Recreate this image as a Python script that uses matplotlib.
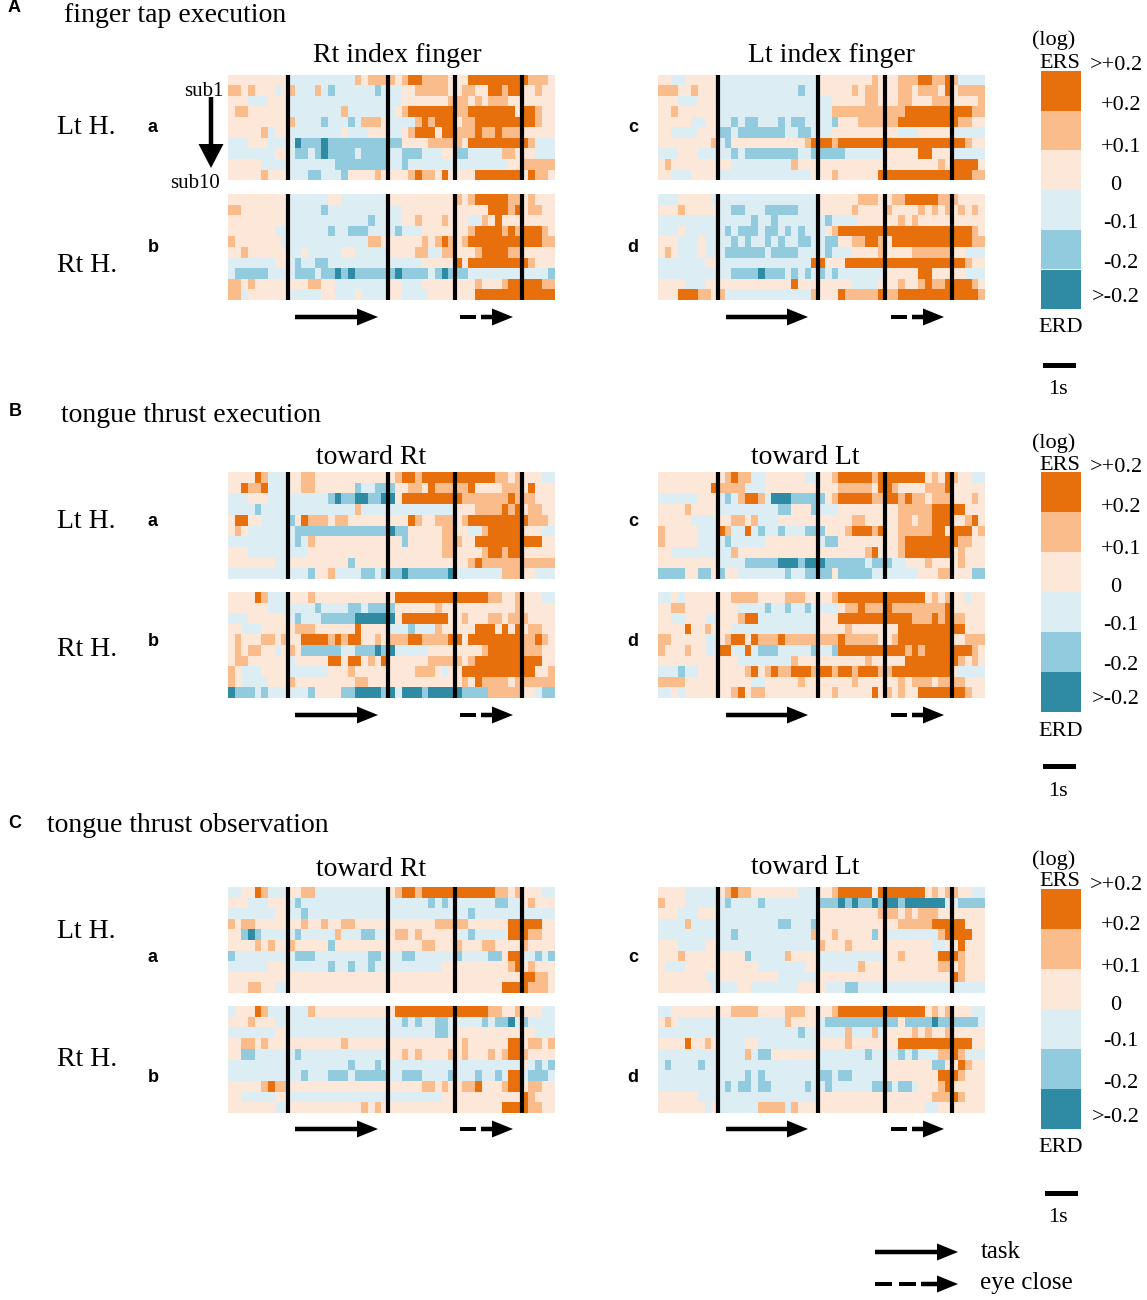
import numpy as np
import matplotlib
matplotlib.use("Agg")
import matplotlib.pyplot as plt
from matplotlib.colors import ListedColormap
from matplotlib.patches import FancyArrow, Rectangle

# levels: 0 dark blue, 1 mid blue, 2 light blue, 3 peach, 4 mid orange, 5 dark orange
# columns are grouped by the event lines: 9 | 15 | 10 | 10 | 5
A_a = [
    "333333333 222222222243444 4345544443 3355555555 54443",
    "443433323 422242122222212 2233444443 3443355455 33433",
    "333222333 222222222222222 2233333334 4434344433 33333",
    "344333333 222222224222222 2345555555 4455555553 55433",
    "333333333 422221222124443 2222454555 3445555555 55433",
    "333334233 222222223222333 2234555355 4445445444 33333",
    "222333222 201110111111111 1133334444 4355555555 54222",
    "222222233 211210111121111 2211122233 1122222443 33222",
    "333332222 222222211111111 2212222222 2222222233 44444",
    "333334333 222112221333343 3334544353 3335555555 35443",
]
A_b = [
    "333333333 222222332222222 3333333333 4345555544 34333",
    "443333333 222221222222222 2233333333 3333355545 34433",
    "333333333 222222222222122 2233433343 3322435333 33333",
    "333333322 222222122111222 2122233333 3345555454 55543",
    "433333332 222222222222443 3333343454 3455555555 55544",
    "334333333 223222223322222 3333442244 3334555544 33333",
    "222222233 212211222222222 2222233333 5355555555 54333",
    "211111222 211121101011111 1011112101 1122222222 22221",
    "443433333 333443322222222 3322233333 3334333455 55544",
    "442333333 222223322232222 3322223333 3335555555 55555",
]
A_c = [
    "332233333 222222222222222 3333333343 3344455445 42222",
    "444334333 222222222222122 3333343443 3344344435 34444",
    "333222333 222222222222222 2233333443 3344333444 33334",
    "334333333 222222222222222 2244444444 4445555555 55544",
    "333332233 221211222121122 2213334444 4455555555 54433",
    "332222333 112111111122112 2233333333 3322233333 22222",
    "333333334 213333333333345 5545555555 5555555555 55433",
    "222333222 221211111111221 1111222222 3333355333 22222",
    "343333333 332222222224333 3333333333 3333333343 55553",
    "332223333 222222222222223 3343333335 5555555555 55544",
]
A_d = [
    "222333332 222222222222222 3333334443 3445555544 43333",
    "333433333 221122211111222 3333343333 4333343434 34343",
    "222222222 222221221222222 2122223333 3343433333 33333",
    "222322222 212111211212122 2345555555 5555555555 55543",
    "333222322 221212212122112 2113344554 3555555555 55544",
    "343222322 211111121111222 2122233334 3333444444 33222",
    "222222233 222222222222225 5333555555 5555555555 55433",
    "222222222 221111011121212 1212222222 3333355333 33222",
    "333322233 333333333335333 3333322223 3343345445 55543",
    "333555443 422222222222224 3335444445 4455555555 55554",
]
B_a = [
    "333354222 334433333333333 3455455555 5555554434 33322",
    "335445222 334433333312211 1334435444 4453333444 35333",
    "222333222 222222101100110 0355555555 5444444454 44333",
    "222212222 222222222242222 2222222222 3334444545 34433",
    "355332222 135444344333333 3335433444 3455555555 54443",
    "343222222 211111111111111 0113333344 3322455555 33322",
    "222222222 212433333333333 3313333344 4335555555 55533",
    "333222222 222333333333333 3333333344 3333455455 33333",
    "333333322 333333333133333 3333333333 3345444444 44444",
    "222222222 222133422221121 1101111110 2222222444 33222",
]
B_b = [
    "333354222 333433333333333 3555555555 5555544334 33322",
    "333333222 222212222112111 1333333433 3333333334 33333",
    "222333333 212221111100000 0355555553 3433344344 43333",
    "332223333 344433333353333 2221222433 3335553535 34433",
    "343334434 335555454553343 4445544445 5355555555 44543",
    "343443323 431111112211101 0222223333 3333455555 44433",
    "344333333 233333553553435 3333334444 4345555555 55533",
    "432223333 222222333433333 3333444323 3555555555 55334",
    "432222333 433333333344333 3333333333 3435444434 44444",
    "011121222 222133331100001 0200010000 0111144444 33211",
]
B_c = [
    "333333333 345442233333322 3345555545 5555553435 43322",
    "333333335 444422233333333 3334444435 5433334445 33333",
    "222222333 212455420001111 1345555544 5545443444 33343",
    "333343333 222222222113331 2223333333 3344444555 55333",
    "333332222 334434222333333 3333344333 3344344555 33453",
    "433333222 542252122122211 1333455545 3344444553 55534",
    "433333222 212222233333333 2113333333 3345555555 54433",
    "332222222 224333333333333 3333333453 3345555555 34333",
    "333333333 222211111000100 0111111211 1223334333 34333",
    "111133113 133222222212211 1131111122 2222233344 33311",
]
B_d = [
    "223233333 334444333344433 3345555555 5555553434 33233",
    "334433333 333222212212212 2223445444 5444444445 33333",
    "332233322 333455222222222 3335555555 5555444545 44333",
    "333353343 332222222222222 3333433333 3355555555 55333",
    "443333322 345535444544444 4445444443 3455555555 33444",
    "433343322 552252111222221 2215555555 5554545555 55543",
    "333333333 333222222224333 3333333433 3335555555 54343",
    "222122333 333345345445554 5545545554 4555555555 32222",
    "444433333 333332233333433 3333343333 3343444344 44333",
    "223233333 334534433333333 3343333353 4343355555 55433",
]
C_a = [
    "223354222 334422222222222 3455455555 5555554434 33322",
    "333222333 212222222222222 2222221212 2222221122 34333",
    "222222233 221222222222222 2222222222 2212222222 22222",
    "434433333 334334334433333 3333333444 4433333355 55533",
    "331012222 212222242221122 3443433333 2212222255 54433",
    "333343433 433333133333333 3333344333 4333443333 43333",
    "122222222 211122222222112 2211222222 1222211355 22121",
    "222222333 222222122122122 2222222233 3333333345 34333",
    "333333333 333333333333333 3333333333 3333333333 55443",
    "333443322 333333333333333 3333333333 3333333555 54443",
]
C_b = [
    "233354222 222433333333333 3555555555 5555544334 33322",
    "333433322 222222222222222 2212122112 2222121102 12222",
    "222222233 222222222222222 2222222112 3333333333 33222",
    "334434333 333333334333333 3333333333 3433333355 34434",
    "331122222 212222222222222 3343433334 3433343455 43333",
    "222222222 222222222122212 2222222222 2222222222 32121",
    "222222222 221222111211111 2211122221 2221221255 21112",
    "333334544 333333333333333 3333344343 3445333455 34433",
    "332222233 222222222222222 2222222233 3333333333 54333",
    "333333322 333333333334343 3333333333 3333333555 54433",
]
C_c = [
    "333322222 345443333333222 3345555535 5555553434 43322",
    "433322222 212222122222222 1110101101 0010000002 21111",
    "333222333 222222222222222 3333333334 4434344433 33333",
    "222242222 222222222112221 3333333333 3344444555 55333",
    "222222222 221222222222224 3343333313 2222222245 55533",
    "333222233 222222222222222 4333433333 3333333223 35333",
    "333433333 333312222243333 2222222222 3343333355 54333",
    "322233333 333333222222233 2222224333 3333333344 34333",
    "333333322 333333333222222 3333333333 3333333333 54333",
    "333333332 222332222222333 3222112222 2222222222 22222",
]
C_d = [
    "223333333 334444333344433 3345555555 5555553434 33322",
    "343222222 222222222243333 2111111111 1131111011 11112",
    "222222222 222222222222122 2222422242 3333434334 33333",
    "333353343 222233222222222 3333433333 3355555555 55533",
    "222222222 222242113333333 2222222122 2212122244 54222",
    "212222122 222222222222222 2222222222 3333333113 35433",
    "222222222 222212122222222 1121122222 3333333355 54333",
    "222222222 212112112222212 2122222211 1211233345 33333",
    "333333222 222222222222222 3333333333 3333333444 54333",
    "333333323 222222444424333 3333333333 3333332233 33333",
]

level_colors = ["#2f8aa3", "#92cbde", "#dcedf4", "#fde7d9", "#fbbc8b", "#e76f0c"]
event_cols = [9, 24, 34, 44]
cbar_labels = [">+0.2", "+0.2", "+0.1", "0", "-0.1", "-0.2", ">-0.2"]

cmap = ListedColormap(level_colors)
W, H = 1147, 1300

plt.rcParams["font.family"] = ["Liberation Serif", "DejaVu Serif"]
fig = plt.figure(figsize=(W / 100, H / 100), dpi=100)

# overlay in pixel coordinates for labels and arrows
ov = fig.add_axes([0, 0, 1, 1], zorder=5)
ov.set_xlim(0, W)
ov.set_ylim(H, 0)
ov.axis("off")
ov.patch.set_alpha(0)


def heat(panel, x0, y0, x1, y1):
    ax = fig.add_axes([x0 / W, 1 - y1 / H, (x1 - x0) / W, (y1 - y0) / H])
    grid = np.array([[int(c) for c in row.replace(" ", "")] for row in panel])
    ax.pcolormesh(grid, cmap=cmap, vmin=-0.5, vmax=5.5)
    ax.set_ylim(10, 0)
    for c in event_cols:
        ax.axvline(c, color="k", lw=3.0)
    ax.axis("off")


def arrow(x0, x1, y, lw=4.5, hw=17, hl=21):
    ov.add_patch(FancyArrow(x0, y, x1 - x0, 0, width=lw, head_width=hw, head_length=hl,
                            length_includes_head=True, color="k", lw=0))


def dash_arrow(x0, x1, y, dashes):
    for a, b in dashes:
        ov.add_patch(Rectangle((x0 + a, y - 2.25), b - a, 4.5, color="k", lw=0))
    arrow(x0 + dashes[-1][1] + 5, x1, y)


def txt(x, y, s, size=20, ha="left", **kw):
    ov.text(x, y + 2, s, fontsize=size, ha=ha, va="center", **kw)


def letter(x, y, s, size=13):
    ov.text(x, y + 1, s, fontsize=size, ha="center", va="center", weight="bold",
            family=["Liberation Sans", "DejaVu Sans"])


def colorbar(top, step, ys, bar_y, bar_x):
    for i, col in enumerate(level_colors[::-1]):
        ov.add_patch(Rectangle((1041, top + i * step), 40, step, color=col, lw=0))
    for lab, y in zip(cbar_labels, ys[2:9]):
        cx = 1116 if lab.startswith(">") or lab == "0" else 1121
        txt(cx, y, lab, size=16, ha="center")
    txt(1054, ys[0], "(log)", size=16, ha="center")
    txt(1060, ys[1], "ERS", size=16, ha="center")
    txt(1061, ys[9], "ERD", size=16, ha="center")
    ov.add_patch(Rectangle((bar_x, bar_y - 2.5), 33, 5, color="k", lw=0))
    txt(1058, bar_y + 23, "1s", size=16, ha="center")


# section A
letter(14, 7, "A")
txt(64, 14, "finger tap execution")
heat(A_a, 228, 75, 555, 180)
heat(A_b, 228, 194, 555, 300)
heat(A_c, 658, 75, 985, 180)
heat(A_d, 658, 194, 985, 300)
txt(397, 53, "Rt index finger", ha="center")
txt(831, 53, "Lt index finger", ha="center")
txt(57, 126, "Lt H.")
txt(57, 264, "Rt H.")
letter(152, 127, "a"); letter(153, 247, "b"); letter(633, 127, "c"); letter(633, 247, "d")
txt(204, 89, "sub1", size=15, ha="center")
txt(195, 181, "sub10", size=15, ha="center")
ov.add_patch(FancyArrow(211, 97, 0, 71, width=4.5, head_width=25, head_length=24,
                        length_includes_head=True, color="k", lw=0))
colorbar(71, 39.7, [38, 61, 64, 103, 145, 184, 221, 262, 296, 326], 365, 1043)

# section B
letter(15, 411, "B")
txt(61, 413, "tongue thrust execution")
heat(B_a, 228, 472, 555, 579)
heat(B_b, 228, 592, 555, 698)
heat(B_c, 658, 472, 985, 579)
heat(B_d, 658, 592, 985, 698)
txt(371, 455, "toward Rt", ha="center")
txt(805, 455, "toward Lt", ha="center")
txt(57, 520, "Lt H.")
txt(57, 648, "Rt H.")
letter(152, 520, "a"); letter(153, 640, "b"); letter(633, 520, "c"); letter(633, 640, "d")
colorbar(472, 40, [441, 464, 466, 505, 547, 586, 623, 664, 698, 729], 766, 1043)

# section C
letter(15, 822, "C")
txt(47, 824, "tongue thrust observation")
heat(C_a, 228, 887, 555, 993)
heat(C_b, 228, 1006, 555, 1113)
heat(C_c, 658, 887, 985, 993)
heat(C_d, 658, 1006, 985, 1113)
txt(371, 867, "toward Rt", ha="center")
txt(805, 866, "toward Lt", ha="center")
txt(57, 929, "Lt H.")
txt(57, 1057, "Rt H.")
letter(152, 956, "a"); letter(153, 1076, "b"); letter(633, 956, "c"); letter(633, 1076, "d")
colorbar(889, 40, [858, 880, 883, 923, 965, 1003, 1040, 1081, 1115, 1146], 1193, 1045)

# task and eye close arrows under the panels
for y in [317, 715, 1129]:
    arrow(295, 378, y)
    arrow(726, 808, y)
    dash_arrow(460, 513, y, [(0, 16)])
    dash_arrow(891, 944, y, [(0, 16)])

arrow(875, 958, 1252)
dash_arrow(875, 958, 1284, [(0, 17), (24, 41)])
txt(981, 1250, "task", size=18)
txt(980, 1281, "eye close", size=18)

fig.savefig("out.png", dpi=100)
